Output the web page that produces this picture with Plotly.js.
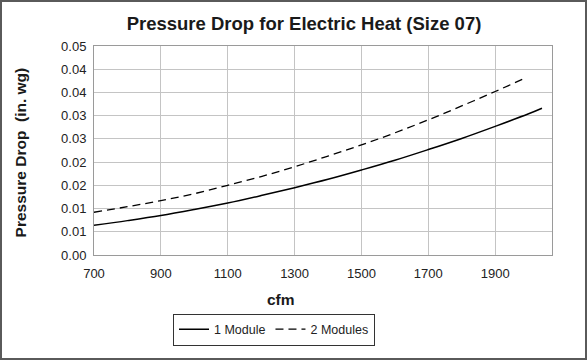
<!DOCTYPE html>
<html>
<head>
<meta charset="utf-8">
<script src="https://cdn.plot.ly/plotly-3.0.1.min.js"></script>
<style>
html,body{margin:0;padding:0;background:#fff;}
#frame{width:587px;height:360px;box-sizing:border-box;border:2px solid #5a5a5a;overflow:hidden;}
#chart{width:583px;height:356px;}
</style>
</head>
<body>
<div id="frame"><div id="chart"></div></div>
<script>
// Data
const cfm1 = [700, 800, 900, 1000, 1100, 1200, 1300, 1400, 1500, 1600, 1700, 1800, 1900, 2000, 2040];
const oneModule = [0.0064, 0.0074, 0.0085, 0.0098, 0.0112, 0.0128, 0.0145, 0.0163, 0.0183, 0.0204, 0.0227, 0.0251, 0.0277, 0.0304, 0.0316];
const cfm2 = [700, 800, 900, 1000, 1100, 1200, 1300, 1400, 1500, 1600, 1700, 1800, 1900, 1990];
const twoModules = [0.0092, 0.0104, 0.0117, 0.0132, 0.0150, 0.0169, 0.0190, 0.0213, 0.0237, 0.0263, 0.0291, 0.0321, 0.0352, 0.0381];
const xTicks = [700, 900, 1100, 1300, 1500, 1700, 1900];
const yTickVals = [0, 0.005, 0.01, 0.015, 0.02, 0.025, 0.03, 0.035, 0.04, 0.045];
const yTickText = ['0.00', '0.01', '0.01', '0.02', '0.02', '0.03', '0.03', '0.04', '0.04', '0.05'];
const seriesNames = ['1 Module', '2 Modules'];

const FONT = 'Liberation Sans, Arial, sans-serif';
const W = 583, H = 356;
const L = 92, R = 33, T = 44, B = 96;
const pw = W - L - R, ph = H - T - B;
function px(xpix){ return (xpix - 2 - L) / pw; }
function py(ypix){ return (H + 2 - B - ypix) / ph; }

const traces = [
  {x: cfm1, y: oneModule, name: seriesNames[0], mode: 'lines', type: 'scatter',
   line: {color: '#000', width: 1.5, shape: 'spline'}},
  {x: cfm2, y: twoModules, name: seriesNames[1], mode: 'lines', type: 'scatter',
   line: {color: '#000', width: 1.3, dash: '8px,5px', shape: 'spline'}}
];

const layout = {
  width: W, height: H,
  margin: {l: L, r: R, t: T, b: B, pad: 0},
  paper_bgcolor: '#fff', plot_bgcolor: '#fff',
  font: {family: FONT, color: '#222', size: 13},
  title: {text: '<b>Pressure Drop for Electric Heat (Size 07)</b>', font: {family: FONT, size: 18.5, color: '#1a1a1a'},
          xref: 'container', x: (304 - 2) / W, xanchor: 'center', yref: 'container', y: 1 - (24 - 2) / H, yanchor: 'middle'},
  xaxis: {range: [700, 2070], tickvals: xTicks, ticktext: xTicks.map(String),
          showgrid: true, gridcolor: '#c4c4c4', gridwidth: 1,
          showline: true, mirror: true, linecolor: '#9a9a9a', linewidth: 1,
          ticks: 'outside', ticklen: 6, tickcolor: 'rgba(0,0,0,0)',
          tickfont: {family: FONT, size: 13, color: '#222'}, zeroline: false, fixedrange: true},
  yaxis: {range: [0, 0.045], tickvals: yTickVals, ticktext: yTickText,
          showgrid: true, gridcolor: '#c4c4c4', gridwidth: 1,
          showline: true, mirror: true, linecolor: '#9a9a9a', linewidth: 1,
          ticks: 'outside', ticklen: 4, tickcolor: 'rgba(0,0,0,0)',
          tickfont: {family: FONT, size: 13, color: '#222'}, zeroline: false, fixedrange: true},
  showlegend: true,
  legend: {orientation: 'h', x: px(274), y: py(339), xanchor: 'center', yanchor: 'middle',
           bordercolor: '#333', borderwidth: 1, bgcolor: '#fff',
           font: {family: FONT, size: 12.5, color: '#222'}, itemwidth: 30, tracegroupgap: 0},
  annotations: [
    {text: '<b>cfm</b>', xref: 'paper', yref: 'paper', x: px(281), y: py(308), showarrow: false,
     xanchor: 'center', yanchor: 'middle', font: {family: FONT, size: 15.5, color: '#1a1a1a'}},
    {text: '<b>Pressure Drop  (in. wg)</b>', xref: 'paper', yref: 'paper', x: px(20), y: py(156), showarrow: false,
     textangle: -90, xanchor: 'center', yanchor: 'middle', font: {family: FONT, size: 15.5, color: '#1a1a1a'}}
  ]
};

Plotly.newPlot('chart', traces, layout, {displayModeBar: false, staticPlot: true});
</script>
</body>
</html>
